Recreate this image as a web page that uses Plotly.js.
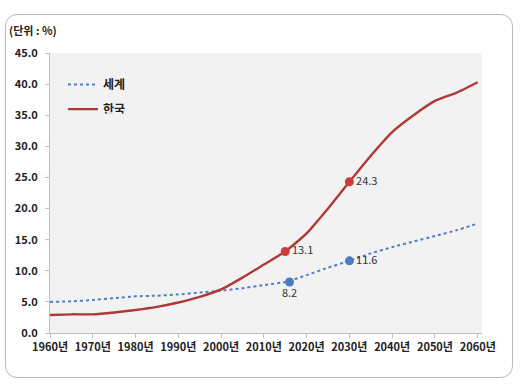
<!DOCTYPE html>
<html><head><meta charset="utf-8">
<script src="https://cdn.plot.ly/plotly-3.0.1.min.js"></script>
<style>
body{margin:0;background:#fff;}
#frame{position:absolute;left:5px;top:14px;width:506px;height:362px;border:1.5px solid #b8b8b8;border-radius:12px;}
#chart{position:absolute;left:0;top:0;width:520px;height:391px;}
</style></head>
<body><div id="frame"></div><div id="chart"></div>
<script>
const years = [1960,1965,1970,1975,1980,1985,1990,1995,2000,2005,2010,2015,2020,2025,2030,2035,2040,2045,2050,2055,2060];
const korea = [2.9,3.0,3.0,3.3,3.7,4.2,4.9,5.8,7.0,8.9,11.0,13.1,16.0,20.0,24.3,28.5,32.3,35.0,37.3,38.6,40.3];
const world = [5.0,5.1,5.3,5.6,5.9,6.0,6.2,6.5,6.8,7.2,7.7,8.2,9.3,10.5,11.6,12.8,13.8,14.7,15.6,16.5,17.6];
const koreaMarkYears = [2015,2030];
const koreaMarks = [13.1,24.3];
const worldMarkYears = [2016,2030];
const worldMarks = [8.2,11.6];
const tickYears = [1960,1970,1980,1990,2000,2010,2020,2030,2040,2050,2060];
const tickText = tickYears.map(y => y + '년');
const yTicks = [0,5,10,15,20,25,30,35,40,45];
const font = '"Noto Sans CJK KR", "Noto Sans", sans-serif';

const data = [
  {x: years, y: world, name: '세계', mode: 'lines', line: {color: '#4f7fc0', width: 2, dash: 'dot', shape: 'spline', smoothing: 0.5}},
  {x: years, y: korea, name: '한국', mode: 'lines', line: {color: '#b03838', width: 2.4, shape: 'spline', smoothing: 0.5}},
  {x: worldMarkYears, y: worldMarks, mode: 'markers+text', showlegend: false,
   marker: {color: '#4a7cc4', size: 9}, text: worldMarks.map(v => v.toFixed(1)),
   textposition: ['bottom center', 'middle right'], textfont: {size: 11, color: '#333', family: font}},
  {x: koreaMarkYears, y: koreaMarks, mode: 'markers+text', showlegend: false,
   marker: {color: '#cc3a3a', size: 9}, text: koreaMarks.map(v => v.toFixed(1)),
   textposition: 'middle right', textfont: {size: 11, color: '#333', family: font}}
];

const layout = {
  width: 520, height: 391,
  margin: {l: 50, r: 38, t: 53, b: 58},
  paper_bgcolor: 'rgba(0,0,0,0)',
  plot_bgcolor: '#f2f2f2',
  font: {family: font, color: '#333'},
  xaxis: {range: [1960, 2061], tickvals: tickYears, ticktext: tickText, showgrid: false, zeroline: false,
    showline: true, linecolor: '#bfbfbf', linewidth: 1, ticks: 'outside', ticklen: 4, tickcolor: '#bfbfbf',
    tickfont: {size: 11, color: '#222', family: font, weight: 'bold'}},
  yaxis: {range: [0, 45], tickvals: yTicks, ticktext: yTicks.map(v => v.toFixed(1)), showgrid: false, zeroline: false,
    showline: true, linecolor: '#bfbfbf', linewidth: 1, ticks: 'outside', ticklen: 4, tickcolor: '#bfbfbf',
    ticklabelstandoff: 5,
    tickfont: {size: 11, color: '#222', family: font, weight: 'bold'}},
  legend: {x: 0.03, y: 0.955, xanchor: 'left', yanchor: 'top', bgcolor: 'rgba(0,0,0,0)',
    font: {size: 12, color: '#222', family: font, weight: 'bold'}, itemwidth: 30, tracegroupgap: 0,
    entrywidth: 80},
  annotations: [{text: '(단위 : %)', xref: 'paper', yref: 'paper', x: -0.1, y: 1.045, xanchor: 'left', yanchor: 'bottom',
    showarrow: false, font: {size: 11, color: '#222', family: font, weight: 'bold'}}]
};
Plotly.newPlot('chart', data, layout, {displayModeBar: false}).then(() => {
  const items = document.querySelectorAll('.legend .traces');
  items.forEach((el) => {
    const t = el.getAttribute('transform');
    const m = /translate\(([-\d.]+),\s*([-\d.]+)\)/.exec(t);
    if (m) el.setAttribute('transform', 'translate(' + m[1] + ',' + (parseFloat(m[2]) * 1.3) + ')');
  });
});
</script></body></html>
